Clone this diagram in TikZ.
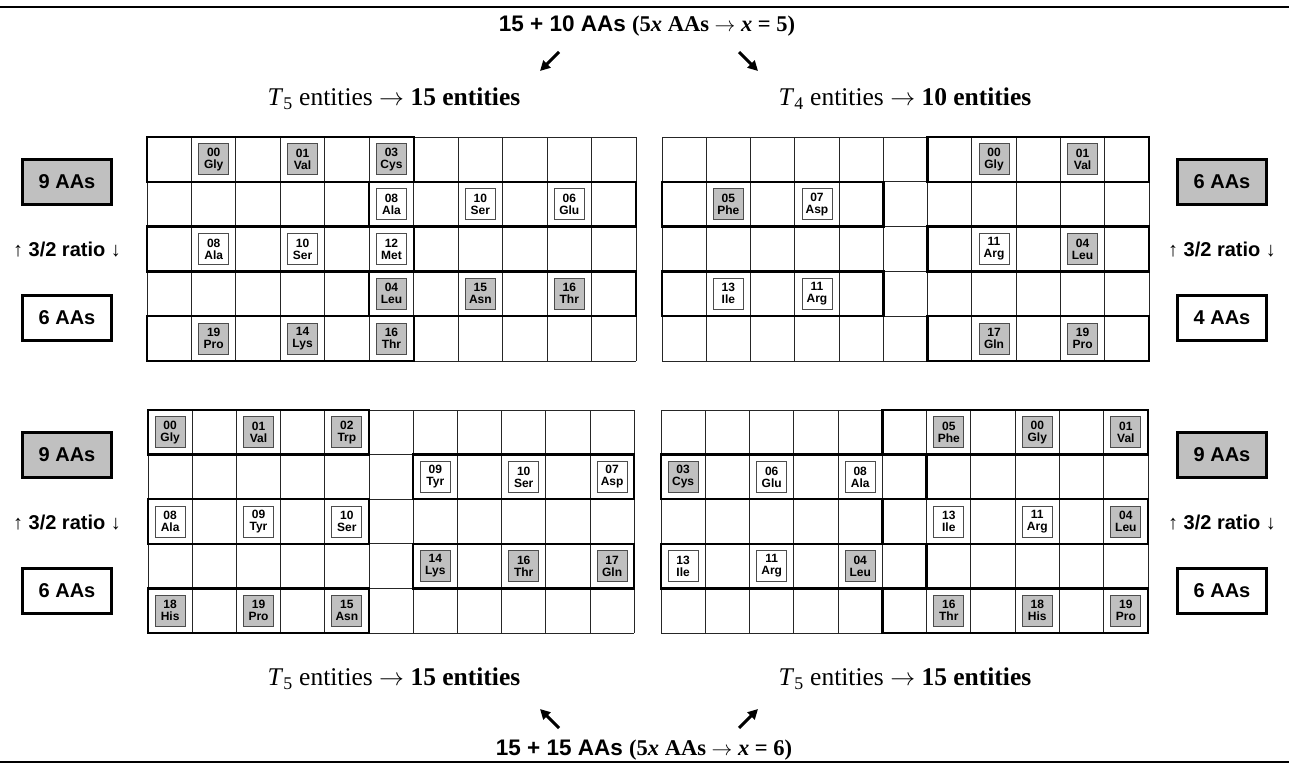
\documentclass[tikz,border=0pt]{standalone}
\usepackage{fontspec}
\setmainfont{Liberation Serif}
\setsansfont{Liberation Sans}
\usepackage{tikz}
\usetikzlibrary{positioning,arrows.meta}
\definecolor{ink}{HTML}{000000}
\definecolor{shade}{HTML}{C0C0C0}
\newcommand\yields{\ensuremath{\rightarrow}}
\tikzset{
  cellln/.style={line width=0.9pt, draw=ink!85},
  frame/.style={line width=2.4pt, draw=ink, line cap=rect},
  aa/.style={draw=ink!70, line width=0.9pt, fill=#1, minimum width=30pt, minimum height=31pt,
    inner sep=0pt, align=center, font=\sffamily\bfseries\fontsize{12}{12}\selectfont},
  aa/.default=white,
  tally/.style={draw=ink, line width=3pt, fill=#1, minimum width=89pt, minimum height=45pt,
    inner sep=0pt, font=\sffamily\bfseries\fontsize{20}{20}\selectfont},
  tally/.default=white,
  ratio/.style={font=\sffamily\fontsize{20}{20}\selectfont},
  head/.style={font=\bfseries\fontsize{22.5}{22.5}\selectfont},
  ent/.style={font=\fontsize{25.5}{25.5}\selectfont},
  bigarr/.style={-{Triangle[length=10pt,width=10pt]}, line width=3pt, draw=ink},
}

\begin{document}
\begin{tikzpicture}[x=1pt,y=-1pt]
  \useasboundingbox (0,0) rectangle (1289,765);
  \draw[line width=2.2pt] (0,7) -- (1289,7);
  \draw[line width=2.2pt] (0,762) -- (1289,762);

  % top and bottom captions
  \node[head] (cap-top) at (647,26) {\sffamily 15 + 10 AAs \rmfamily(5\textit{x} AAs \yields{} \textit{x} = 5)};
  \node[head] (cap-bot) at (644,750) {\sffamily 15 + 15 AAs \rmfamily(5\textit{x} AAs \yields{} \textit{x} = 6)};
  \coordinate (up-l0) at (559,52); \coordinate (up-l1) at (540,71);
  \coordinate (up-r0) at (739,52); \coordinate (up-r1) at (758,71);
  \coordinate (dn-l0) at (559,728); \coordinate (dn-l1) at (540,709);
  \coordinate (dn-r0) at (739,728); \coordinate (dn-r1) at (758,709);
  \draw[bigarr] (up-l0) -- (up-l1);
  \draw[bigarr] (up-r0) -- (up-r1);
  \draw[bigarr] (dn-l0) -- (dn-l1);
  \draw[bigarr] (dn-r0) -- (dn-r1);
  \node[ent] (ent-ul) at (394,99) {\textit{T}\textsubscript{5} entities \yields{} \textbf{15 entities}};
  \node[ent] (ent-ur) at (905,99) {\textit{T}\textsubscript{4} entities \yields{} \textbf{10 entities}};
  \node[ent] (ent-ll) at (394,679) {\textit{T}\textsubscript{5} entities \yields{} \textbf{15 entities}};
  \node[ent] (ent-lr) at (905,679) {\textit{T}\textsubscript{5} entities \yields{} \textbf{15 entities}};

  % side tallies
  \foreach \s/\x/\y/\a/\b/\fc in {ul/67/182/9/6/shade, ur/1222/182/6/4/shade,
                                   ll/67/455/9/6/shade, lr/1222/455/9/6/shade} {
    \node[tally=\fc] (\s-hi) at (\x,\y) {\a\ AAs};
    \node[ratio] (\s-ratio) at (\x,\y+68) {↑ \textbf{3/2 ratio} ↓};
    \node[tally] (\s-lo) at (\x,\y+136) {\b\ AAs};
  }

  % upper left
  \begin{scope}[shift={(147,137)},x=44.45pt,y=-44.8pt]
    \foreach \i in {0,...,11} \draw[cellln] (\i,0) -- (\i,5);
    \foreach \j in {0,...,5} \draw[cellln] (0,\j) -- (11,\j);
    \foreach \r/\a/\b in {0/0/6,2/0/6,4/0/6,1/5/11,3/5/11}
      \draw[frame] (\a,\r) rectangle (\b,\r+1);
    \foreach \r/\c/\id/\res/\fc in {0/1/00/Gly/shade,0/3/01/Val/shade,0/5/03/Cys/shade,
        1/5/08/Ala/white,1/7/10/Ser/white,1/9/06/Glu/white,
        2/1/08/Ala/white,2/3/10/Ser/white,2/5/12/Met/white,
        3/5/04/Leu/shade,3/7/15/Asn/shade,3/9/16/Thr/shade,
        4/1/19/Pro/shade,4/3/14/Lys/shade,4/5/16/Thr/shade}
      \node[aa=\fc] (ul-\r-\c) at (\c+0.5,\r+0.5) {\id\\\res};
  \end{scope}

  % upper right
  \begin{scope}[shift={(662,137)},x=44.27pt,y=-44.8pt]
    \foreach \i in {0,...,11} \draw[cellln] (\i,0) -- (\i,5);
    \foreach \j in {0,...,5} \draw[cellln] (0,\j) -- (11,\j);
    \foreach \r/\a/\b in {0/6/11,2/6/11,4/6/11,1/0/5,3/0/5}
      \draw[frame] (\a,\r) rectangle (\b,\r+1);
    \foreach \r/\c/\id/\res/\fc in {0/7/00/Gly/shade,0/9/01/Val/shade,
        1/1/05/Phe/shade,1/3/07/Asp/white,
        2/7/11/Arg/white,2/9/04/Leu/shade,
        3/1/13/Ile/white,3/3/11/Arg/white,
        4/7/17/Gln/shade,4/9/19/Pro/shade}
      \node[aa=\fc] (ur-\r-\c) at (\c+0.5,\r+0.5) {\id\\\res};
  \end{scope}

  % lower left
  \begin{scope}[shift={(148,410)},x=44.2pt,y=-44.6pt]
    \foreach \i in {0,...,11} \draw[cellln] (\i,0) -- (\i,5);
    \foreach \j in {0,...,5} \draw[cellln] (0,\j) -- (11,\j);
    \foreach \r/\a/\b in {0/0/5,2/0/5,4/0/5,1/6/11,3/6/11}
      \draw[frame] (\a,\r) rectangle (\b,\r+1);
    \foreach \r/\c/\id/\res/\fc in {0/0/00/Gly/shade,0/2/01/Val/shade,0/4/02/Trp/shade,
        1/6/09/Tyr/white,1/8/10/Ser/white,1/10/07/Asp/white,
        2/0/08/Ala/white,2/2/09/Tyr/white,2/4/10/Ser/white,
        3/6/14/Lys/shade,3/8/16/Thr/shade,3/10/17/Gln/shade,
        4/0/18/His/shade,4/2/19/Pro/shade,4/4/15/Asn/shade}
      \node[aa=\fc] (ll-\r-\c) at (\c+0.5,\r+0.5) {\id\\\res};
  \end{scope}

  % lower right
  \begin{scope}[shift={(661,410)},x=44.27pt,y=-44.6pt]
    \foreach \i in {0,...,11} \draw[cellln] (\i,0) -- (\i,5);
    \foreach \j in {0,...,5} \draw[cellln] (0,\j) -- (11,\j);
    \foreach \r/\a/\b in {0/5/11,2/5/11,4/5/11,1/0/6,3/0/6}
      \draw[frame] (\a,\r) rectangle (\b,\r+1);
    \foreach \r/\c/\id/\res/\fc in {0/6/05/Phe/shade,0/8/00/Gly/shade,0/10/01/Val/shade,
        1/0/03/Cys/shade,1/2/06/Glu/white,1/4/08/Ala/white,
        2/6/13/Ile/white,2/8/11/Arg/white,2/10/04/Leu/shade,
        3/0/13/Ile/white,3/2/11/Arg/white,3/4/04/Leu/shade,
        4/6/16/Thr/shade,4/8/18/His/shade,4/10/19/Pro/shade}
      \node[aa=\fc] (lr-\r-\c) at (\c+0.5,\r+0.5) {\id\\\res};
  \end{scope}
\end{tikzpicture}
\end{document}
